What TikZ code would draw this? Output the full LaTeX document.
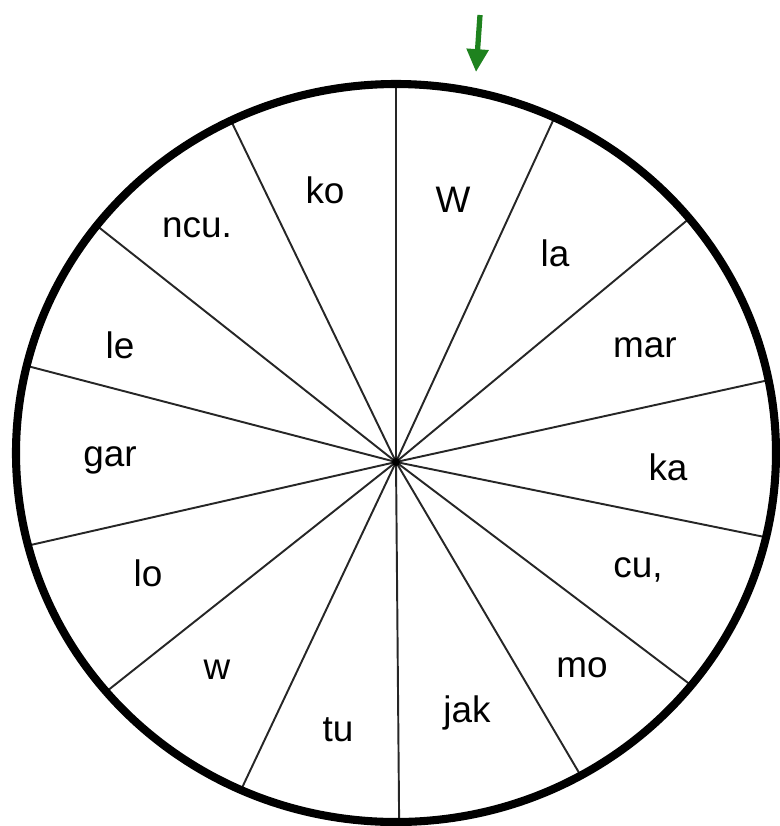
\documentclass[tikz,border=0pt]{standalone}
\usepackage{fontspec}
\setmainfont{Liberation Sans}
\usetikzlibrary{arrows.meta}

\definecolor{arrowgreen}{RGB}{30,130,30}

\begin{document}
\begin{tikzpicture}[x=0.02cm, y=-0.02cm,
    spoke/.style={line width=1.1pt, black!85},
    rim/.style={line width=4.6pt},
    word/.style={font=\fontsize{21}{21}\selectfont, inner sep=0pt}]
        % Page size in pixels of the reference
        \useasboundingbox (0,0) rectangle (780,826);

        % Hub of the wheel
        \coordinate (hub) at (396,462);

        % Draw the spokes, cut off at the rim (y axis points down)
        \begin{scope}
          \clip (396,453) ellipse [x radius=380, y radius=369];
          \foreach \a [count=\i] in {90,65.3,39.7,12.4,-11.5,-37.1,-59.5,-89.5,-115.3,-141.6,-167.2,165.4,141.7,115.8}
          {
            \draw[spoke] (hub) -- ++(-\a:500) coordinate (S\i);
          }
        \end{scope}
        \fill (hub) circle [radius=4];

        % Draw the rim
        \draw[rim] (396,453) ellipse [x radius=380, y radius=369];

        % Words in the sectors
        \foreach \x/\y/\t/\m in {453/200/W/w1, 555/253/la/w2, 645/348/mar/w3,
          668/467/ka/w4, 638/570/{cu,}/w5, 582/668/mo/w6, 467/713/jak/w7,
          338/730/tu/w8, 217/670/w/w9, 148/573/lo/w10, 110/460/gar/w11,
          120/345/le/w12, 197/228/ncu./w13, 325/190/ko/w14}
        {
          \node[word] (\m) at (\x,\y) {\t};
        }

        % Green pointer above the rim
        \coordinate (ptop) at (480,15);
        \coordinate (ptip) at (476,72);
        \draw[arrowgreen, line width=3pt, -{Triangle[length=13pt, width=12pt]}] (ptop) -- (ptip);
      \end{tikzpicture}
\end{document}
